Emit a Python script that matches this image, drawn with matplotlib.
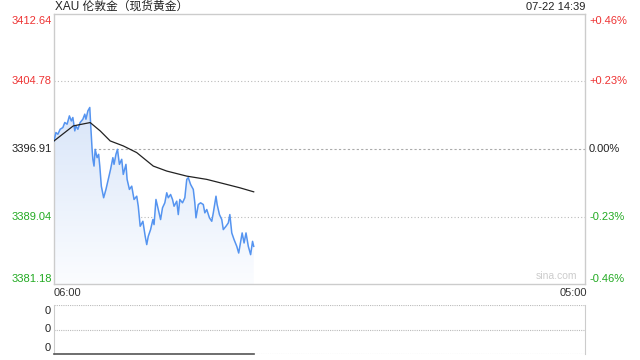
import matplotlib
matplotlib.use("Agg")
import matplotlib.pyplot as plt
import numpy as np
from matplotlib.patches import Polygon

plt.rcParams['font.family'] = ['Liberation Sans', 'Noto Sans CJK SC', 'DejaVu Sans']

# ---- data ----
title = "XAU 伦敦金（现货黄金）"
timestamp = "07-22 14:39"
prev_close = 3396.91
price_ticks = [3381.18, 3389.04, 3396.91, 3404.78, 3412.64]
pct_labels = ["-0.46%", "-0.23%", "0.00%", "+0.23%", "+0.46%"]
x_labels = ["06:00", "05:00"]
session_minutes = 1380  # 06:00 -> 05:00 next day

# minutes after 06:00
price_minutes = [0, 5, 10, 16, 23, 28, 34, 40, 45, 49, 54, 57, 62, 68, 75, 80, 83, 88, 93,
                 95, 99, 101, 104, 107, 112, 116, 119, 123, 129,
                 135, 141, 147, 153, 156, 161, 165, 170, 176,
                 180, 187, 190, 196, 202, 208, 215, 219, 224, 231, 237, 241, 245, 251, 257,
                 260, 265, 271, 277, 282, 288, 293, 297, 303, 308, 312, 319, 323, 327, 334,
                 340, 345, 349, 355, 362, 366, 369, 375, 381, 388, 392, 397, 404, 410, 414,
                 421, 424, 430, 436, 440, 447, 453, 457, 462, 468, 475, 480, 483, 489, 494,
                 499, 505, 511, 516, 519]
prices = [3397.85, 3398.83, 3398.63, 3399.21, 3399.41, 3400.00, 3399.80, 3400.77, 3400.18,
          3400.58, 3399.02, 3399.60, 3399.21, 3400.00, 3400.38, 3400.97, 3400.38, 3401.35,
          3401.75, 3400.00, 3396.87, 3395.71, 3394.92, 3396.87, 3395.90, 3396.29, 3394.92,
          3392.58, 3391.23,
          3392.20, 3393.37, 3394.54,
          3395.90, 3395.12, 3396.29, 3396.87, 3395.12, 3395.71, 3393.95, 3395.12, 3393.37,
          3392.20, 3392.58, 3391.03, 3391.41, 3390.24, 3387.91, 3388.49, 3386.74, 3385.77,
          3386.74, 3387.52, 3388.69, 3388.10, 3391.03, 3389.86, 3388.69, 3390.06, 3390.64,
          3391.81, 3391.23, 3391.61, 3391.03, 3390.24, 3390.83, 3389.27, 3391.03, 3390.64,
          3391.23, 3393.37, 3393.57, 3392.78, 3392.20, 3390.64, 3388.89, 3390.44, 3390.64,
          3390.44, 3389.47, 3389.86, 3388.89, 3388.49, 3389.47, 3391.41, 3390.44, 3389.27,
          3388.69, 3387.52, 3387.91, 3388.30, 3389.27, 3387.13, 3386.35, 3385.57, 3384.79,
          3385.57, 3387.13, 3385.96, 3387.13, 3385.57, 3384.60, 3386.15, 3385.57]

avg_minutes = [0, 50, 94, 120, 146, 180, 215, 258, 293, 345, 397, 449, 483, 519]
avg_prices = [3397.85, 3399.60, 3399.99, 3399.02, 3397.85, 3397.27, 3396.49, 3394.92,
              3394.34, 3393.75, 3393.37, 3392.78, 3392.39, 3391.92]

volume = [0] * len(price_minutes)

# ---- figure ----
W, H = 640, 360
fig = plt.figure(figsize=(6.4, 3.6), dpi=100)
fig.patch.set_facecolor('white')

def fx(px):
    return px / W

def fy(py):
    return 1 - py / H

ax = fig.add_axes([fx(54), fy(284), fx(585) - fx(54), fy(14) - fy(284)])
ax.set_xlim(0, session_minutes)
ymin, ymax = price_ticks[0], price_ticks[-1]
ax.set_ylim(ymin, ymax)
ax.set_xticks([])
ax.set_yticks([])
for s in ax.spines.values():
    s.set_color('#cccccc')
    s.set_linewidth(1)

# grid lines
for v in price_ticks[1:-1]:
    if v == prev_close:
        ax.axhline(v, color='#aaaaaa', lw=0.8, ls=(0, (2, 2)), zorder=1)
    else:
        ax.axhline(v, color='#bbbbbb', lw=0.8, ls=(0, (1, 2)), zorder=1)

# gradient fill under the line
grad = np.linspace(0, 1, 256).reshape(-1, 1)
top_c = np.array([0.85, 0.90, 0.975])
bot_c = np.array([0.985, 0.99, 1.0])
img = top_c * (1 - grad[..., None]) + bot_c * grad[..., None]
img = img.reshape(256, 1, 3)
top_y = max(prices)
im = ax.imshow(img, extent=[0, price_minutes[-1], ymin, top_y], aspect='auto',
               origin='upper', zorder=2)
verts = [(price_minutes[0], ymin)] + list(zip(price_minutes, prices)) + [(price_minutes[-1], ymin)]
poly = Polygon(verts, closed=True, facecolor='none', edgecolor='none')
ax.add_patch(poly)
im.set_clip_path(poly)

ax.plot(price_minutes, prices, color='#5594f0', lw=1.1, zorder=4)
ax.plot(avg_minutes, avg_prices, color='#222222', lw=0.9, zorder=5)

# left labels (price)
px2min = session_minutes / 531
colors = ['#22aa22', '#22aa22', '#222222', '#ee3333', '#ee3333']
for i, (v, c) in enumerate(zip(price_ticks, colors)):
    va = 'center'
    yy = v
    if i == 0:
        va = 'bottom'
    if i == len(price_ticks) - 1:
        va = 'top'
        yy = v - 1.5 * (ymax - ymin) / 270
    ax.text(-2 * px2min, yy, f"{v:.2f}", color=c, fontsize=8,
            ha='right', va=va, clip_on=False)
    ax.text(session_minutes + 4 * px2min, yy, pct_labels[i], color=c,
            fontsize=8, ha='left', va=va, clip_on=False)

ax.text(0.985, 0.012, "sina.com", transform=ax.transAxes, ha='right', va='bottom',
        color='#cccccc', fontsize=7.5)

# title & timestamp
fig.text(fx(55), fy(7), title, fontsize=8.5, ha='left', va='center', color='#222222')
fig.text(fx(585), fy(7), timestamp, fontsize=8, ha='right', va='center', color='#222222')

# x labels
fig.text(fx(54), fy(293.5), x_labels[0], fontsize=8, ha='left', va='center', color='#333333')
fig.text(fx(587), fy(293.5), x_labels[1], fontsize=8, ha='right', va='center', color='#333333')

# volume panel
vax = fig.add_axes([fx(54), fy(354), fx(585) - fx(54), fy(305) - fy(354)])
vax.set_xlim(0, session_minutes)
vax.set_ylim(0, 1)
vax.set_xticks([])
vax.set_yticks([])
for k in ['left', 'right']:
    vax.spines[k].set_color('#cccccc')
vax.spines['top'].set_visible(False)
vax.spines['bottom'].set_visible(False)
vax.axhline(1, color='#bbbbbb', lw=0.8, ls=(0, (1, 1)))
vax.axhline(0.5, color='#bbbbbb', lw=0.8, ls=(0, (1, 1)))
vax.axhline(0, color='#bbbbbb', lw=0.8, ls=(0, (1, 1)))
vax.plot(price_minutes, volume, color='#555555', lw=1.2, clip_on=False, zorder=3)
for yy in [0.88, 0.5, 0.12]:
    vax.text(-3 * px2min, yy, "0", fontsize=8, ha='right', va='center',
             color='#222222', clip_on=False)

fig.savefig("out.png", dpi=100, facecolor='white')
